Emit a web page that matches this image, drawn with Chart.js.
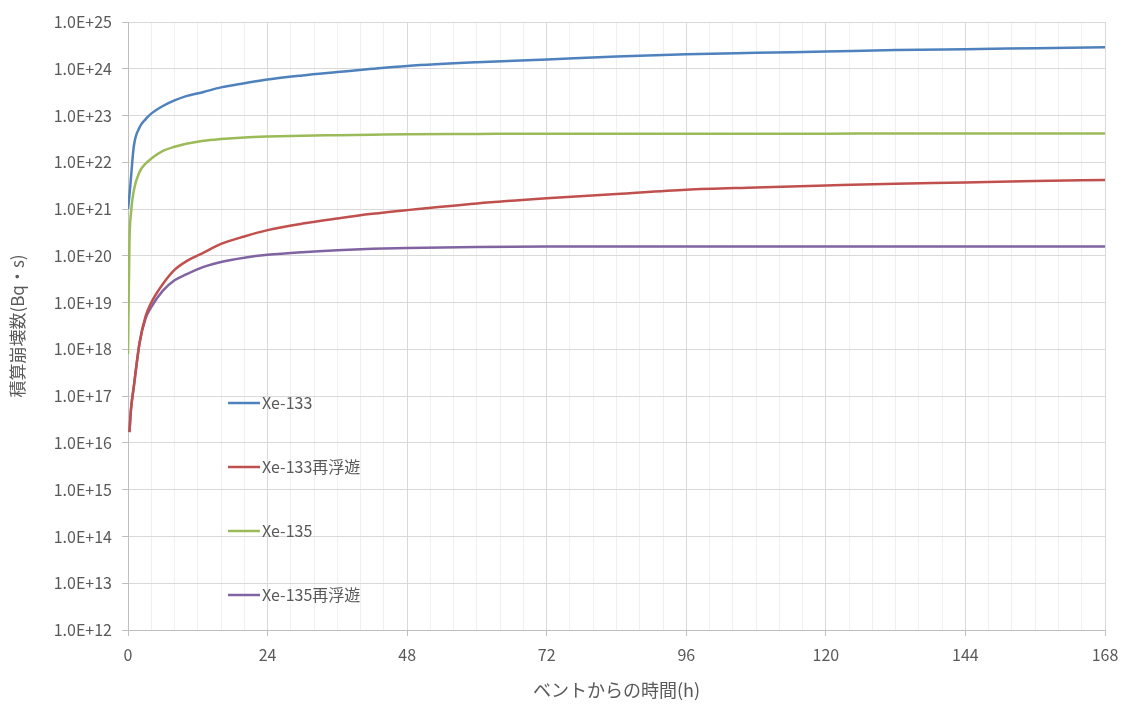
<!DOCTYPE html>
<html>
<head>
<meta charset="utf-8">
<script src="https://cdn.jsdelivr.net/npm/chart.js@4/dist/chart.umd.min.js"></script>
<style>
  body { margin: 0; background: #ffffff; }
  #wrap { width: 1124px; height: 704px; }
</style>
</head>
<body>
<div id="wrap"><canvas id="decayChart" width="1124" height="704"></canvas></div>
<script>
// hours after venting
const hours = [0, 0.25, 0.5, 1, 2, 3, 4, 6, 8, 10, 13, 16, 20, 24, 30, 36, 42, 48, 60, 72, 84, 96, 108, 120, 132, 144, 156, 168];

// integrated decays (Bq·s)
const xe133 = [1e21, 2e21, 4.5e21, 2.2e22, 5.6e22, 8.3e22, 1.1e23, 1.6e23, 2.1e23, 2.6e23, 3.2e23, 4e23, 4.9e23, 5.9e23,
  7.2e23, 8.5e23, 1e24, 1.15e24, 1.38e24, 1.58e24, 1.82e24, 2.04e24, 2.19e24, 2.34e24, 2.51e24, 2.63e24, 2.75e24, 2.88e24];
const xe133Resus = [null, 1.7e16, 5e16, 1.6e17, 1.4e18, 5e18, 1e19, 2.5e19, 5e19, 7.6e19, 1.17e20, 1.8e20, 2.6e20, 3.55e20,
  4.9e20, 6.3e20, 7.9e20, 9.5e20, 1.32e21, 1.7e21, 2.1e21, 2.6e21, 2.9e21, 3.2e21, 3.5e21, 3.7e21, 4.0e21, 4.2e21];
const xe135 = [8e17, 2e20, 8e20, 2.5e21, 6.3e21, 9.3e21, 1.2e22, 1.75e22, 2.15e22, 2.5e22, 2.9e22, 3.15e22, 3.4e22, 3.55e22,
  3.7e22, 3.8e22, 3.9e22, 4e22, 4.05e22, 4.1e22, 4.1e22, 4.1e22, 4.1e22, 4.1e22, 4.12e22, 4.12e22, 4.12e22, 4.15e22];
const xe135Resus = [null, 1.7e16, 5e16, 1.6e17, 1.4e18, 4.5e18, 8e18, 1.8e19, 3e19, 4e19, 5.8e19, 7.4e19, 9.1e19, 1.05e20,
  1.2e20, 1.32e20, 1.41e20, 1.48e20, 1.55e20, 1.58e20, 1.58e20, 1.58e20, 1.58e20, 1.58e20, 1.58e20, 1.58e20, 1.58e20, 1.58e20];

const seriesNames = ['Xe-133', 'Xe-133再浮遊', 'Xe-135', 'Xe-135再浮遊'];
const seriesColors = ['#4f81bd', '#c0504d', '#9bbb59', '#8064a2'];

const xMajorTicks = [0, 24, 48, 72, 96, 120, 144, 168];
const yExponents = [12, 13, 14, 15, 16, 17, 18, 19, 20, 21, 22, 23, 24, 25];

const FONT = "'Noto Sans CJK JP', 'Noto Sans', sans-serif";
const TEXT = '#595959';

function toPoints(vals) {
  return hours.map((h, i) => ({ x: h, y: vals[i] }));
}

// legend drawn inside the plot area, stacked with wide spacing
const innerLegend = {
  id: 'innerLegend',
  afterDatasetsDraw(chart) {
    const { ctx, chartArea } = chart;
    const x0 = chartArea.left + 100;
    const y0 = chartArea.top + 381;
    ctx.save();
    ctx.font = '16px ' + FONT;
    ctx.textBaseline = 'middle';
    ctx.textAlign = 'left';
    chart.data.datasets.forEach((ds, i) => {
      const y = y0 + i * 64;
      ctx.strokeStyle = ds.borderColor;
      ctx.lineWidth = 2.5;
      ctx.beginPath();
      ctx.moveTo(x0, y);
      ctx.lineTo(x0 + 32, y);
      ctx.stroke();
      ctx.fillStyle = TEXT;
      ctx.fillText(ds.label, x0 + 34, y);
    });
    ctx.restore();
  }
};

const ctx = document.getElementById('decayChart').getContext('2d');
new Chart(ctx, {
  type: 'line',
  data: {
    datasets: [xe133, xe133Resus, xe135, xe135Resus].map((vals, i) => ({
      label: seriesNames[i],
      data: toPoints(vals),
      borderColor: seriesColors[i],
      backgroundColor: seriesColors[i],
      borderWidth: 2.5,
      pointRadius: 0,
      cubicInterpolationMode: 'monotone',
      spanGaps: false
    }))
  },
  options: {
    responsive: false,
    animation: false,
    layout: { padding: { top: 22, right: 19, left: 0, bottom: 0 } },
    plugins: {
      legend: { display: false },
      tooltip: { enabled: false }
    },
    scales: {
      x: {
        type: 'linear',
        min: 0,
        max: 168,
        afterBuildTicks(axis) {
          const t = [];
          for (let v = 0; v <= 168; v += 4) t.push({ value: v });
          axis.ticks = t;
        },
        afterFit(axis) {
          axis.height = 74;
          axis.paddingLeft = 0;
          axis.paddingRight = 0;
        },
        ticks: {
          autoSkip: false,
          maxRotation: 0,
          padding: 9,
          color: TEXT,
          font: { family: FONT, size: 16 },
          callback: v => xMajorTicks.includes(v) ? String(v) : ''
        },
        grid: {
          color: c => xMajorTicks.includes(c.tick.value) ? '#d9d9d9' : '#f0f0f0',
          tickColor: c => xMajorTicks.includes(c.tick.value) ? '#bfbfbf' : 'rgba(0,0,0,0)',
          tickLength: 6,
          lineWidth: 1
        },
        border: { color: '#bfbfbf' },
        title: {
          display: true,
          text: 'ベントからの時間(h)',
          color: TEXT,
          font: { family: FONT, size: 18 },
          padding: { top: 0, bottom: 3 }
        }
      },
      y: {
        type: 'logarithmic',
        min: 1e12,
        max: 1e25,
        afterBuildTicks(axis) {
          axis.ticks = yExponents.map(e => ({ value: Math.pow(10, e) }));
        },
        afterFit(axis) { axis.width = 128; },
        ticks: {
          autoSkip: false,
          padding: 10,
          color: TEXT,
          font: { family: FONT, size: 16 },
          callback: v => '1.0E+' + Math.round(Math.log10(v))
        },
        grid: {
          color: '#d9d9d9',
          tickColor: '#bfbfbf',
          tickLength: 6,
          lineWidth: 1
        },
        border: { color: '#bfbfbf' },
        title: {
          display: true,
          text: '積算崩壊数(Bq・s)',
          color: TEXT,
          font: { family: FONT, size: 17 },
          padding: { top: 7, bottom: 0 }
        }
      }
    }
  },
  plugins: [innerLegend]
});
</script>
</body>
</html>
